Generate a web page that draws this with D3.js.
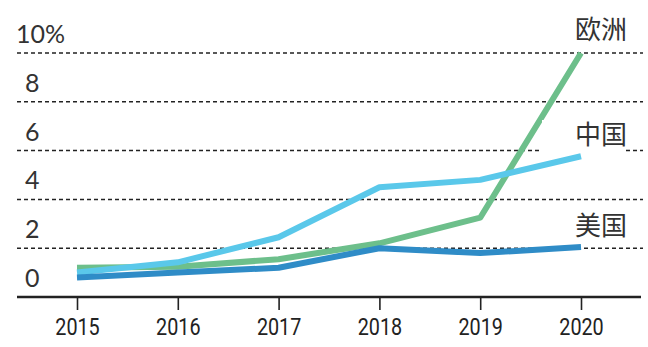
<!DOCTYPE html>
<html>
<head>
<meta charset="utf-8">
<script src="https://cdn.jsdelivr.net/npm/d3@7"></script>
<style>
    body { margin: 0; background: #fff; }
    .grid line { stroke: #222; stroke-width: 1.5; stroke-dasharray: 4 3; }
    .y-label { font-family: Lato, "Open Sans", sans-serif; font-weight: 400; font-size: 25px; fill: #333; }
    .x-axis text { font-family: Roboto, "Liberation Sans", sans-serif; font-weight: 400; font-size: 23px; fill: #222; }
    .series-label { font-family: "Noto Sans CJK SC", sans-serif; font-size: 26px; fill: #333; }
</style>
</head>
<body>
<div id="chart-area"></div>
<script>
const years = [2015, 2016, 2017, 2018, 2019, 2020];
const yTicks = [0, 2, 4, 6, 8, 10];

const europe = [1.2, 1.24, 1.55, 2.2, 3.25, 10.0];
const china = [1.0, 1.42, 2.45, 4.5, 4.8, 5.77];
const usa = [0.8, 1.0, 1.2, 2.0, 1.8, 2.05];

const seriesNames = ["欧洲", "中国", "美国"];
const seriesColors = ["#6dbf8b", "#5ac8ea", "#2f8cc7"];

const chartSize = { width: 648, height: 347 };

const x = d3.scaleLinear().domain([2015, 2020]).range([77, 581]);
const y = d3.scaleLinear().domain([0, 10]).range([297, 53]);

const drawChart = function () {
    const svg = d3.select("#chart-area")
        .append("svg")
        .attr("width", chartSize.width)
        .attr("height", chartSize.height);

    // dashed gridlines (not at zero)
    svg.append("g")
        .attr("class", "grid")
        .selectAll("line")
        .data(yTicks.filter(t => t > 0))
        .join("line")
        .attr("x1", 17)
        .attr("x2", 643)
        .attr("y1", d => y(d))
        .attr("y2", d => y(d));

    svg.selectAll(".y-label")
        .data(yTicks)
        .join("text")
        .attr("class", "y-label")
        .attr("x", d => d === 10 ? 16 : 25)
        .attr("y", d => y(d) - 10)
        .text(d => d === 10 ? "10%" : d);

    // x axis
    const xAxis = d3.axisBottom(x)
        .tickValues(years)
        .tickFormat(d3.format("d"))
        .tickSize(13)
        .tickSizeOuter(0)
        .tickPadding(11);

    const gx = svg.append("g")
        .attr("class", "x-axis")
        .attr("transform", `translate(0, ${y(0)})`)
        .call(xAxis);
    gx.select(".domain").remove();
    gx.selectAll(".tick line").attr("stroke", "#222").attr("stroke-width", 1.6);
    // narrow the year labels a bit, like the condensed face in the original
    gx.selectAll(".tick text")
        .attr("dy", null)
        .attr("y", 38)
        .attr("transform", "scale(0.86, 1)");

    svg.append("line")
        .attr("x1", 17)
        .attr("x2", 641)
        .attr("y1", y(0))
        .attr("y2", y(0))
        .attr("stroke", "#222")
        .attr("stroke-width", 2.6);

    const line = d3.line()
        .x((d, i) => x(years[i]))
        .y(d => y(d));

    [europe, china, usa].forEach((values, i) => {
        svg.append("path")
            .attr("d", line(values))
            .attr("fill", "none")
            .attr("stroke", seriesColors[i])
            .attr("stroke-width", 6)
            .attr("stroke-linejoin", "round");
    });

    // white patch behind the 中国 label
    svg.append("rect")
        .attr("x", 542)
        .attr("y", 120)
        .attr("width", 81)
        .attr("height", 33)
        .attr("fill", "#fff");

    const labelY = [39, 144, 235];
    svg.selectAll(".series-label")
        .data(seriesNames)
        .join("text")
        .attr("class", "series-label")
        .attr("x", 575)
        .attr("y", (d, i) => labelY[i])
        .text(d => d);
}

window.onload = drawChart;
</script>
</body>
</html>
